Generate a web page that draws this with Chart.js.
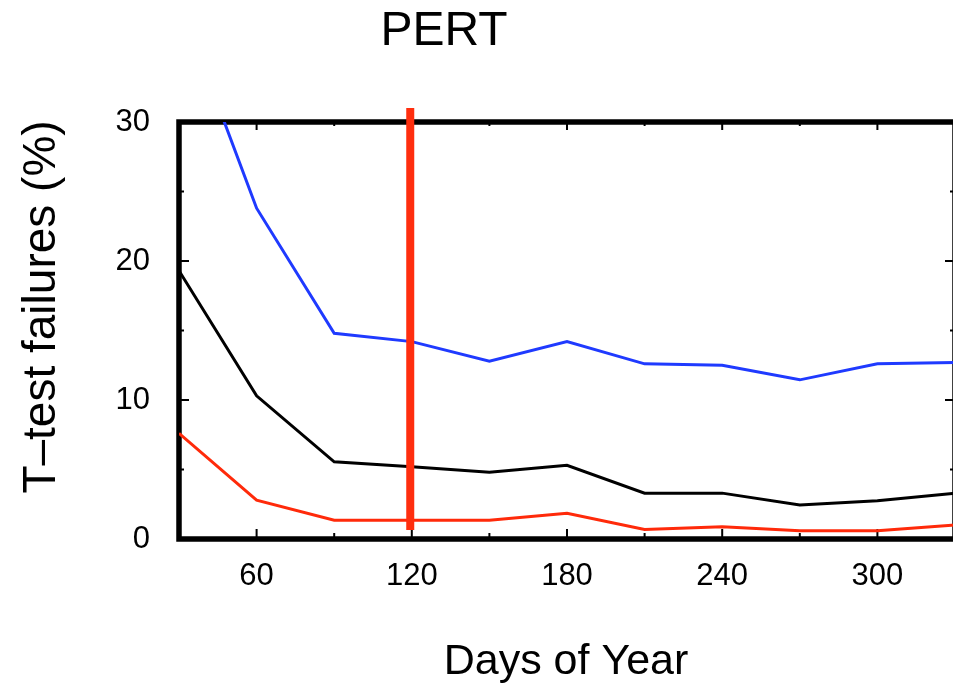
<!DOCTYPE html>
<html>
<head>
<meta charset="utf-8">
<title>PERT</title>
<script src="https://cdn.jsdelivr.net/npm/chart.js@4"></script>
<style>
  html, body { margin: 0; padding: 0; background: #fff; overflow: hidden; }
  #wrap { width: 960px; height: 686px; }
</style>
</head>
<body>
<div id="wrap"><canvas id="pert-chart" width="960" height="686"></canvas></div>
<script>
// days sampled every 30 days
const days = [30, 60, 90, 120, 150, 180, 210, 240, 270, 300, 330];
const blueFailures = [38.7, 23.8, 14.8, 14.2, 12.8, 14.2, 12.6, 12.5, 11.45, 12.6, 12.7];
const blackFailures = [19.3, 10.3, 5.55, 5.2, 4.8, 5.3, 3.3, 3.3, 2.45, 2.75, 3.3];
const redFailures = [7.6, 2.8, 1.35, 1.35, 1.35, 1.85, 0.68, 0.88, 0.6, 0.6, 1.0];

// vertical marker
const markerDay = 119.4;
const markerRange = [0.65, 31];

const xTickLabels = [60, 120, 180, 240, 300];
const xMinorTicks = [90, 150, 210, 270];
const yTickLabels = [0, 10, 20, 30];
const yMinorTicks = [5, 15, 25];

const FONT = '"Liberation Sans", Arial, Helvetica, sans-serif';

function toPoints(ys) {
    return days.map((d, i) => ({ x: d, y: ys[i] }));
}

// black box with inward ticks, plus the three titles
const framePlugin = {
    id: 'frame',
    beforeDatasetsDraw(chart) {
        const { ctx, chartArea: a, scales } = chart;
        ctx.save();
        ctx.strokeStyle = '#000';
        ctx.lineWidth = 2;
        ctx.beginPath();
        const tick = (x1, y1, x2, y2) => { ctx.moveTo(x1, y1); ctx.lineTo(x2, y2); };
        xTickLabels.forEach(v => {
            const x = scales.x.getPixelForValue(v);
            tick(x, a.bottom, x, a.bottom - 10);
            tick(x, a.top, x, a.top + 8);
        });
        xMinorTicks.forEach(v => {
            const x = scales.x.getPixelForValue(v);
            tick(x, a.bottom, x, a.bottom - 6);
            tick(x, a.top, x, a.top + 4);
        });
        yTickLabels.forEach(v => {
            const y = scales.y.getPixelForValue(v);
            tick(a.left, y, a.left + 10, y);
            tick(a.right, y, a.right - 10, y);
        });
        yMinorTicks.forEach(v => {
            const y = scales.y.getPixelForValue(v);
            tick(a.left, y, a.left + 5, y);
            tick(a.right, y, a.right - 5, y);
        });
        ctx.stroke();

        ctx.lineWidth = 5.5;
        ctx.strokeRect(a.left, a.top, a.right - a.left, a.bottom - a.top);
        ctx.restore();
    },
    afterDraw(chart) {
        const { ctx } = chart;
        ctx.save();
        ctx.fillStyle = '#000';
        ctx.textAlign = 'center';
        ctx.textBaseline = 'alphabetic';

        ctx.font = '48px ' + FONT;
        ctx.fillText('PERT', 444, 45);

        ctx.font = '43px ' + FONT;
        ctx.fillText('Days of Year', 566, 674);

        ctx.font = '46px ' + FONT;
        ctx.translate(55, 307);
        ctx.rotate(-Math.PI / 2);
        ctx.fillText('T\u2013test failures (%)', 0, 0);
        ctx.restore();
    }
};

const ctx = document.getElementById('pert-chart').getContext('2d');

new Chart(ctx, {
    type: 'line',
    data: {
        datasets: [
            {
                label: 'marker',
                data: [{ x: markerDay, y: markerRange[1] }, { x: markerDay, y: markerRange[0] }],
                borderColor: '#ff2e0e',
                borderWidth: 8,
                pointRadius: 0,
                clip: false,
                order: 0
            },
            {
                label: 'blue',
                data: toPoints(blueFailures),
                borderColor: '#1f3aff',
                borderWidth: 3,
                pointRadius: 0,
                order: 1
            },
            {
                label: 'black',
                data: toPoints(blackFailures),
                borderColor: '#000',
                borderWidth: 3,
                pointRadius: 0,
                order: 2
            },
            {
                label: 'red',
                data: toPoints(redFailures),
                borderColor: '#ff2a0a',
                borderWidth: 3,
                pointRadius: 0,
                order: 3
            }
        ]
    },
    options: {
        responsive: false,
        devicePixelRatio: 1,
        animation: false,
        layout: { padding: { top: 122, right: 5, left: 0, bottom: 0 } },
        plugins: {
            legend: { display: false },
            tooltip: { enabled: false }
        },
        elements: { line: { tension: 0 } },
        scales: {
            x: {
                type: 'linear',
                min: 30,
                max: 330,
                border: { display: false },
                grid: { display: false, drawTicks: false },
                afterBuildTicks(scale) {
                    scale.ticks = xTickLabels.map(v => ({ value: v }));
                },
                afterFit(scale) { scale.height = 147; },
                ticks: {
                    color: '#000',
                    padding: 19,
                    maxRotation: 0,
                    font: { family: FONT, size: 31 }
                }
            },
            y: {
                min: 0,
                max: 30,
                border: { display: false },
                grid: { display: false, drawTicks: false },
                afterBuildTicks(scale) {
                    scale.ticks = yTickLabels.map(v => ({ value: v }));
                },
                afterFit(scale) { scale.width = 179; },
                ticks: {
                    color: '#000',
                    padding: 29,
                    font: { family: FONT, size: 31 }
                }
            }
        }
    },
    plugins: [framePlugin]
});
</script>
</body>
</html>
